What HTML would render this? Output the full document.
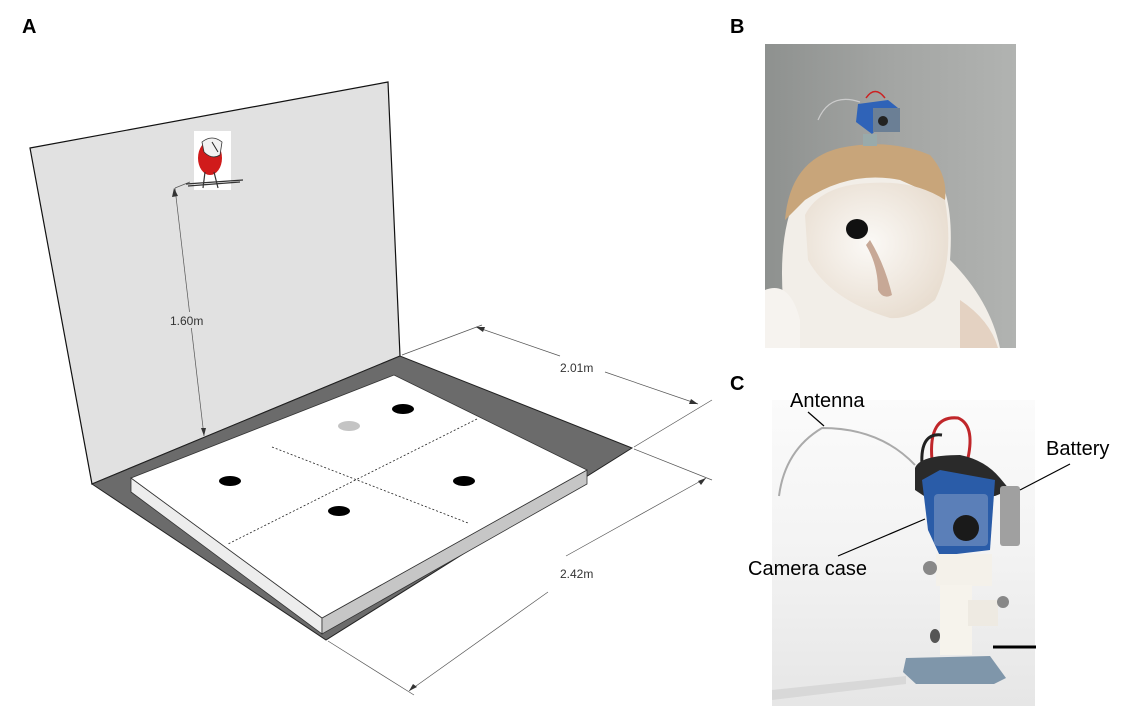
<!DOCTYPE html>
<html><head><meta charset="utf-8"><style>
html,body{margin:0;padding:0;background:#fff}
svg{display:block;font-family:"Liberation Sans",sans-serif}
</style></head><body>
<svg width="1136" height="716" viewBox="0 0 1136 716" xmlns="http://www.w3.org/2000/svg">
<defs>
<linearGradient id="bgB" x1="0" y1="0" x2="1" y2="0"><stop offset="0" stop-color="#8e918f"/><stop offset="0.5" stop-color="#a3a5a3"/><stop offset="1" stop-color="#b1b3b1"/></linearGradient>
<radialGradient id="face" cx="0.45" cy="0.45" r="0.6"><stop offset="0" stop-color="#fbf9f6"/><stop offset="1" stop-color="#e8ddd0"/></radialGradient>
<linearGradient id="bgC" x1="0" y1="0" x2="0" y2="1"><stop offset="0" stop-color="#fbfbfb"/><stop offset="0.5" stop-color="#f3f3f3"/><stop offset="1" stop-color="#e6e6e6"/></linearGradient>
<clipPath id="cB"><rect x="765" y="44" width="251" height="304"/></clipPath>
<clipPath id="cC"><rect x="772" y="400" width="263" height="306"/></clipPath>
</defs>
<text x="22" y="33" font-size="20" font-weight="bold">A</text>
<text x="730" y="33" font-size="20" font-weight="bold">B</text>
<text x="730" y="390" font-size="20" font-weight="bold">C</text>

<polygon points="30,148 388,82 400,356 92,484" fill="#e1e1e1" stroke="#111" stroke-width="1.2"/>
<polygon points="92,484 400,356 632,448 326,640" fill="#6b6b6b" stroke="#222" stroke-width="1"/>
<polygon points="131,478 322,618 322,634 131,492" fill="#ededed" stroke="#333" stroke-width="0.8"/>
<polygon points="322,618 587,470 587,484 322,634" fill="#c6c6c6" stroke="#333" stroke-width="0.8"/>
<polygon points="131,478 394,375 587,470 322,618" fill="#fff" stroke="#333" stroke-width="0.8"/>
<line x1="272" y1="447" x2="468" y2="523" stroke="#222" stroke-width="0.8" stroke-dasharray="2,2"/>
<line x1="477" y1="419" x2="228" y2="544" stroke="#222" stroke-width="0.8" stroke-dasharray="2,2"/>
<ellipse cx="349" cy="426" rx="11" ry="5" fill="#c4c4c4"/>
<ellipse cx="403" cy="409" rx="11" ry="5" fill="#000"/>
<ellipse cx="230" cy="481" rx="11" ry="5" fill="#000"/>
<ellipse cx="464" cy="481" rx="11" ry="5" fill="#000"/>
<ellipse cx="339" cy="511" rx="11" ry="5" fill="#000"/>

<g stroke="#555" stroke-width="0.7" fill="none">
<line x1="402" y1="355" x2="482" y2="325"/>
<line x1="634" y1="447" x2="712" y2="400"/>
<line x1="476" y1="327" x2="560" y2="356"/>
<line x1="605" y1="372" x2="698" y2="404"/>
<line x1="634" y1="449" x2="712" y2="480"/>
<line x1="328" y1="641" x2="414" y2="695"/>
<line x1="706" y1="478" x2="566" y2="556"/>
<line x1="548" y1="592" x2="409" y2="691"/>
<line x1="175" y1="188" x2="204" y2="436"/>
<line x1="175" y1="188" x2="190" y2="182"/>
</g>
<g fill="#333">
<polygon points="698,404 689,404 691,399"/>
<polygon points="476,327 485,327 483,332"/>
<polygon points="706,478 698,481 701,485"/>
<polygon points="409,691 413,684 417,687"/>
<polygon points="174,188 172,197 178,196"/>
<polygon points="204,436 201,428 206,428"/>
</g>
<text x="560" y="372" font-size="12" fill="#333">2.01m</text>
<text x="560" y="578" font-size="12" fill="#333">2.42m</text>
<rect x="166" y="312" width="46" height="16" fill="#e1e1e1"/>
<text x="170" y="325" font-size="12" fill="#333">1.60m</text>

<rect x="194" y="131" width="37" height="59" fill="#fff"/>
<ellipse cx="210" cy="158" rx="12" ry="17" fill="#d01b1b"/>
<path d="M202 142 Q212 134 222 142 L220 155 Q212 160 204 152 Z" fill="#f2f2f2" stroke="#333" stroke-width="0.8"/>
<line x1="212" y1="142" x2="218" y2="152" stroke="#222" stroke-width="1"/>
<path d="M186 184 L243 180 M188 186 L240 182 M205 172 L203 188 M214 172 L218 188" stroke="#333" stroke-width="1.2"/>

<g clip-path="url(#cB)">
<rect x="765" y="44" width="251" height="304" fill="url(#bgB)"/>
<path d="M783 300 Q775 190 830 160 Q880 135 930 165 Q955 190 950 260 Q990 300 1000 348 L765 348 Z" fill="#f2eee8"/>
<path d="M785 220 Q790 160 840 148 Q890 138 930 155 Q948 175 945 200 L900 180 Q850 170 805 200 Z" fill="#c8a57a"/>
<path d="M805 215 Q820 185 870 183 Q915 180 945 200 Q955 260 935 300 Q910 320 890 318 Q830 300 808 260 Z" fill="url(#face)"/>
<ellipse cx="857" cy="229" rx="11" ry="10" fill="#111"/>
<path d="M870 240 Q885 265 892 295 Q883 300 878 290 Q878 265 866 245 Z" fill="#c7a896"/>
<path d="M765 290 Q790 280 800 320 L800 348 L765 348 Z" fill="#f6f3ef"/>
<path d="M960 300 Q990 320 998 348 L960 348 Z" fill="#e4d2c2"/>
<path d="M818 120 Q830 92 860 102" stroke="#ccc" stroke-width="1.2" fill="none"/>
<path d="M866 98 Q875 85 885 98" stroke="#c22" stroke-width="1.5" fill="none"/>
<polygon points="858,104 888,100 898,108 872,134 856,122" fill="#2f63b8"/>
<rect x="873" y="108" width="27" height="24" fill="#6b7f95"/>
<circle cx="883" cy="121" r="5" fill="#222"/>
<rect x="863" y="134" width="14" height="12" fill="#9aa"/>
</g>

<g clip-path="url(#cC)">
<rect x="772" y="400" width="263" height="306" fill="url(#bgC)"/>
<path d="M779 496 Q785 450 822 428 Q880 428 915 465" stroke="#aaa" stroke-width="2" fill="none"/>
<path d="M932 460 Q928 415 958 418 Q975 425 968 458" stroke="#c0262a" stroke-width="3" fill="none"/>
<path d="M922 465 Q920 432 942 435" stroke="#222" stroke-width="3" fill="none"/>
<path d="M915 468 Q920 455 960 455 Q985 460 1000 478 L1010 490 L995 496 L930 500 L915 490 Z" fill="#2a2a2a"/>
<rect x="1000" y="486" width="20" height="60" rx="3" fill="#a0a0a0"/>
<polygon points="922,480 940,470 995,480 990,550 940,556 928,530" fill="#2a5ca8"/>
<rect x="934" y="494" width="54" height="52" rx="4" fill="#5b7fb8"/>
<circle cx="966" cy="528" r="13" fill="#1a1a1a"/>
<rect x="936" y="554" width="56" height="32" fill="#f4f1ea"/>
<circle cx="930" cy="568" r="7" fill="#888"/>
<rect x="940" y="585" width="32" height="70" fill="#f6f3ec"/>
<rect x="968" y="600" width="30" height="26" fill="#eeeae2"/>
<circle cx="1003" cy="602" r="6" fill="#888"/>
<ellipse cx="935" cy="636" rx="5" ry="7" fill="#555"/>
<path d="M906 658 L990 656 L1006 678 L994 684 L916 684 L903 672 Z" fill="#7f96aa"/>
<path d="M772 690 L906 676 L906 684 L772 700 Z" fill="#d8d8d8"/>
</g>
<line x1="993" y1="647" x2="1036" y2="647" stroke="#000" stroke-width="3"/>
<text x="790" y="407" font-size="20" fill="#000">Antenna</text>
<line x1="808" y1="412" x2="824" y2="426" stroke="#000" stroke-width="1.2"/>
<text x="1046" y="455" font-size="20" fill="#000">Battery</text>
<line x1="1070" y1="464" x2="1020" y2="490" stroke="#000" stroke-width="1.2"/>
<text x="748" y="575" font-size="20" fill="#000">Camera case</text>
<line x1="838" y1="556" x2="925" y2="519" stroke="#000" stroke-width="1.2"/>
</svg>
</body></html>
